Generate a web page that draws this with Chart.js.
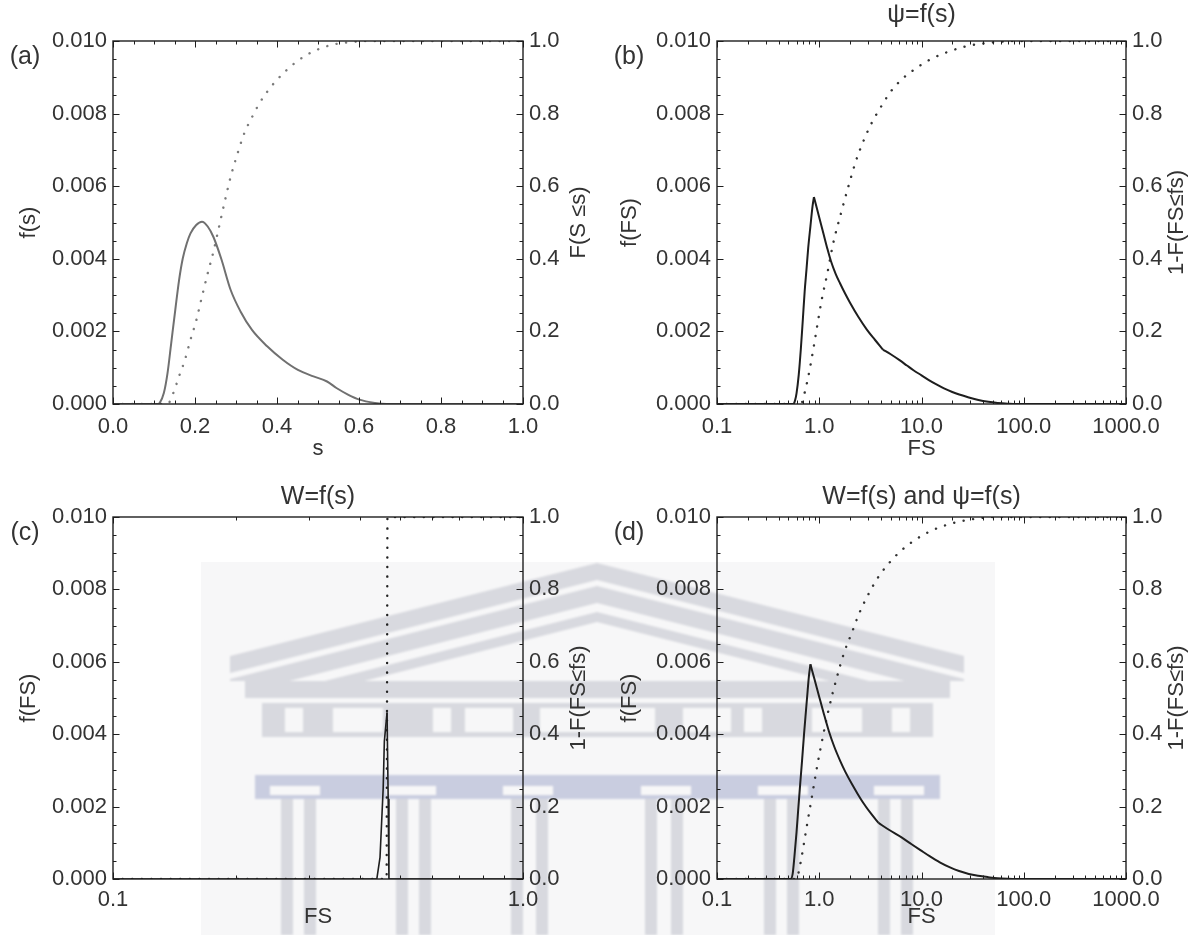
<!DOCTYPE html>
<html>
<head>
<meta charset="utf-8">
<title>Factor of safety distributions</title>
<script src="https://cdn.jsdelivr.net/npm/chart.js@4.4.1/dist/chart.umd.min.js"></script>
<style>
  html, body { margin: 0; padding: 0; background: #fff; }
  #page { position: relative; width: 1195px; height: 935px; overflow: hidden; }
  #emblem { position: absolute; left: 0; top: 0; }
  .panel { position: absolute; }
</style>
</head>
<body>
<div id="page">
  <!-- faint background emblem behind the lower panels -->
  <svg id="emblem" width="1195" height="935" viewBox="0 0 1195 935">
    <defs>
      <filter id="soft"><feGaussianBlur stdDeviation="1.1"/></filter>
      <clipPath id="gable"><rect x="0" y="0" width="1195" height="681"/></clipPath>
    </defs>
    <rect x="201" y="562" width="794" height="373" fill="#f7f7f8"/>
    <g filter="url(#soft)">
      <polygon points="230,656 597,563 964,656 964,673 597,580 230,673" fill="#d8d9df"/>
      <g clip-path="url(#gable)" fill="#d8d9df">
        <polygon points="230,679 597,586 964,679 964,696 597,603 230,696"/>
        <polygon points="230,705 597,612 964,705 964,715 597,622 230,715"/>
      </g>
      <rect x="245" y="681" width="705" height="17" fill="#d8d9df"/>
      <rect x="262" y="703" width="671" height="34" fill="#d8d9df"/>
      <g fill="#f7f7f8">
        <rect x="285" y="708" width="18" height="24"/>
        <rect x="333" y="708" width="50" height="24"/>
        <rect x="433" y="708" width="18" height="24"/>
        <rect x="465" y="708" width="48" height="24"/>
        <rect x="540" y="708" width="115" height="24"/>
        <rect x="683" y="708" width="48" height="24"/>
        <rect x="744" y="708" width="18" height="24"/>
        <rect x="812" y="708" width="50" height="24"/>
        <rect x="892" y="708" width="18" height="24"/>
      </g>
      <rect x="255" y="775" width="685" height="24" fill="#c9cde0"/>
      <g fill="#f7f7f8">
        <rect x="270" y="786" width="50" height="9"/>
        <rect x="386" y="786" width="50" height="9"/>
        <rect x="503" y="786" width="50" height="9"/>
        <rect x="641" y="786" width="50" height="9"/>
        <rect x="758" y="786" width="50" height="9"/>
        <rect x="874" y="786" width="50" height="9"/>
      </g>
      <g fill="#d8d9df">
        <rect x="281" y="799" width="12" height="136"/>
        <rect x="304" y="799" width="12" height="136"/>
        <rect x="396" y="799" width="12" height="136"/>
        <rect x="419" y="799" width="12" height="136"/>
        <rect x="511" y="799" width="12" height="136"/>
        <rect x="536" y="799" width="12" height="136"/>
        <rect x="645" y="799" width="12" height="136"/>
        <rect x="671" y="799" width="12" height="136"/>
        <rect x="764" y="799" width="12" height="136"/>
        <rect x="787" y="799" width="12" height="136"/>
        <rect x="878" y="799" width="12" height="136"/>
        <rect x="901" y="799" width="12" height="136"/>
      </g>
    </g>
  </svg>
  <div class="panel" style="left:0;top:0"><canvas id="panelA" width="597" height="467"></canvas></div>
  <div class="panel" style="left:597px;top:0"><canvas id="panelB" width="598" height="467"></canvas></div>
  <div class="panel" style="left:0;top:467px"><canvas id="panelC" width="597" height="468"></canvas></div>
  <div class="panel" style="left:597px;top:467px"><canvas id="panelD" width="598" height="468"></canvas></div>
</div>

<script>
// ---------- data ----------
// (a) strength s: density f(s) and cumulative F(S <= s)
const sPdfA = [0.0, 0.11, 0.114, 0.124, 0.133, 0.142, 0.152, 0.161, 0.17, 0.18, 0.189, 0.203, 0.217, 0.231, 0.245, 0.264, 0.287, 0.311, 0.339, 0.376, 0.414, 0.451, 0.489, 0.522, 0.545, 0.573, 0.601, 0.639, 0.667, 1.0];
const pdfA = [0, 0, 0.00003, 0.0003, 0.00085, 0.00168, 0.0026, 0.0034, 0.004, 0.00443, 0.0047, 0.00493, 0.00502, 0.00489, 0.0046, 0.004, 0.00314, 0.00255, 0.00204, 0.00159, 0.00122, 0.00094, 0.00076, 0.00062, 0.00044, 0.00026, 0.00012, 0.00003, 0, 0];
const sCdfA = [0.0, 0.133, 0.147, 0.161, 0.175, 0.189, 0.203, 0.217, 0.231, 0.245, 0.259, 0.273, 0.287, 0.301, 0.32, 0.339, 0.358, 0.376, 0.395, 0.419, 0.442, 0.47, 0.498, 0.536, 0.582, 0.62, 1.0];
const cdfA = [0, 0, 0.03, 0.076, 0.12, 0.177, 0.23, 0.296, 0.36, 0.42, 0.49, 0.56, 0.626, 0.68, 0.745, 0.79, 0.83, 0.86, 0.887, 0.915, 0.938, 0.96, 0.976, 0.99, 0.997, 1.0, 1.0];
const breaksA = [];

// (b) FS with psi = f(s); the density has a sharp peak and a kink further down
const fsPdfB = [0.1, 0.556, 0.58, 0.6, 0.63, 0.66, 0.69, 0.72, 0.75, 0.78, 0.82, 0.86, 0.887, 1.0, 1.1, 1.2, 1.3, 1.45, 1.6, 1.8, 2.0, 2.4, 2.92, 3.5, 4.2, 5.0, 6.15, 7.2, 8.35, 10, 11.8, 14, 16.6, 20, 23.4, 29, 36, 45, 55.5, 70, 85, 1000];
const pdfB = [0, 0, 0.0001, 0.0003, 0.0008, 0.0015, 0.0023, 0.0031, 0.0037, 0.0043, 0.0049, 0.00545, 0.0057, 0.00514, 0.00469, 0.00428, 0.00394, 0.00358, 0.00332, 0.00303, 0.00279, 0.00241, 0.00205, 0.00177, 0.0015, 0.00137, 0.0012, 0.00106, 0.00093, 0.00079, 0.00066, 0.00054, 0.00043, 0.00033, 0.00026, 0.00018, 0.00011, 0.00006, 0.00003, 0.00001, 0, 0];
const fsCdfB = [0.1, 0.66, 0.718, 0.817, 0.929, 1.057, 1.2, 1.37, 1.63, 1.93, 2.3, 2.73, 3.24, 4.0, 4.98, 6.45, 8.35, 11.8, 18.1, 27.9, 42.9, 85, 1000];
const cdfB = [0, 0, 0.03, 0.104, 0.195, 0.287, 0.36, 0.443, 0.525, 0.6, 0.672, 0.727, 0.773, 0.818, 0.86, 0.895, 0.92, 0.947, 0.97, 0.986, 0.994, 1.0, 1.0];
const breaksB = [0.887, 4.2];

// (c) FS with W = f(s)
const fsPdfC = [0.1, 0.44, 0.448, 0.456, 0.459, 0.466, 0.469, 0.471, 1.0];
const pdfC = [0, 0, 0.0006, 0.0025, 0.0038, 0.0046, 0.0022, 0, 0];
const fsCdfC = [0.1, 0.465, 0.467, 1.0];
const cdfC = [0, 0, 1, 1];
const breaksC = [0.44, 0.466, 0.471];

// (d) FS with W = f(s) and psi = f(s)
const fsPdfD = [0.1, 0.524, 0.55, 0.571, 0.6, 0.622, 0.65, 0.678, 0.71, 0.739, 0.77, 0.792, 0.82, 0.9, 1.0, 1.1, 1.24, 1.4, 1.61, 1.8, 2.08, 2.4, 2.7, 3.2, 3.8, 4.8, 6.38, 8, 9.84, 12, 15.1, 19, 23.3, 29, 35.8, 45, 55.2, 70, 85, 1000];
const pdfD = [0, 0, 0.00015, 0.0006, 0.0013, 0.0019, 0.0026, 0.00325, 0.004, 0.0046, 0.0052, 0.0056, 0.00593, 0.00551, 0.00503, 0.0046, 0.00409, 0.00366, 0.00325, 0.00296, 0.00263, 0.00233, 0.0021, 0.00181, 0.00155, 0.00136, 0.00115, 0.00096, 0.00079, 0.00063, 0.00046, 0.00032, 0.00022, 0.00014, 0.00009, 0.00005, 0.00002, 0.000005, 0, 0];
const fsCdfD = [0.1, 0.596, 0.65, 0.739, 0.841, 0.957, 1.09, 1.24, 1.47, 1.75, 2.08, 2.47, 3.07, 3.8, 4.93, 6.38, 9.0, 12.7, 19.6, 30.1, 55, 1000];
const cdfD = [0, 0, 0.039, 0.13, 0.222, 0.314, 0.396, 0.47, 0.552, 0.625, 0.68, 0.735, 0.79, 0.835, 0.876, 0.908, 0.94, 0.963, 0.982, 0.993, 1.0, 1.0];
const breaksD = [0.82, 3.8];

// ---------- ticks ----------
const sTicks = [0, 0.2, 0.4, 0.6, 0.8, 1.0];
const fsTicksWide = [0.1, 1, 10, 100, 1000];
const fsTicksNarrow = [0.1, 1];
const pdfTicks = [0, 0.002, 0.004, 0.006, 0.008, 0.010];
const cdfTicks = [0, 0.2, 0.4, 0.6, 0.8, 1.0];

const FONT = '"Liberation Sans", Arial, Helvetica, sans-serif';
const TEXT = '#333';

// ---------- utilities ----------
function pairs(xs, ys) {
  return xs.map((x, i) => ({ x, y: ys[i] }));
}

// cut a curve into pieces at the given x values (each cut point ends one piece and starts the next)
function splitAt(xs, ys, breaks) {
  const parts = [];
  let cur = [];
  xs.forEach((x, i) => {
    cur.push({ x, y: ys[i] });
    if (breaks.includes(x)) {
      parts.push(cur);
      cur = [{ x, y: ys[i] }];
    }
  });
  if (cur.length > 1) parts.push(cur);
  return parts;
}

function linearMinors(min, max, step) {
  const out = [];
  const n = Math.round((max - min) / step);
  for (let i = 0; i <= n; i++) out.push(min + i * step);
  return out;
}

function logMinors(min, max) {
  const out = [];
  for (let d = min; d < max * 0.999; d *= 10) {
    for (let k = 2; k <= 9; k++) out.push(d * k);
  }
  return out;
}

// frame with inward ticks on all sides, panel tag, title and right-hand axis title
const panelDecor = {
  id: 'panelDecor',
  afterDatasetsDraw(chart, args, o) {
    const { ctx, chartArea: ca, scales } = chart;
    const line = (x1, y1, x2, y2) => {
      ctx.beginPath();
      ctx.moveTo(x1, y1);
      ctx.lineTo(x2, y2);
      ctx.stroke();
    };
    ctx.save();
    ctx.strokeStyle = '#1e1e1e';
    ctx.lineWidth = 1;
    const xTick = (v, len) => {
      const p = Math.round(scales.x.getPixelForValue(v)) + 0.5;
      line(p, ca.bottom, p, ca.bottom - len);
      line(p, ca.top, p, ca.top + len);
    };
    const yTick = (scale, v, len, side) => {
      const p = Math.round(scale.getPixelForValue(v)) + 0.5;
      if (side === 'left') line(ca.left, p, ca.left + len, p);
      else line(ca.right, p, ca.right - len, p);
    };
    o.xMinor.forEach(v => xTick(v, 3.5));
    o.xMajor.forEach(v => xTick(v, 6.5));
    linearMinors(0, 0.01, 0.0005).forEach(v => yTick(scales.y, v, 3.5, 'left'));
    pdfTicks.forEach(v => yTick(scales.y, v, 6.5, 'left'));
    linearMinors(0, 1, 0.05).forEach(v => yTick(scales.y1, v, 3.5, 'right'));
    cdfTicks.forEach(v => yTick(scales.y1, v, 6.5, 'right'));

    ctx.lineWidth = 1.4;
    ctx.strokeRect(ca.left, ca.top, ca.right - ca.left, ca.bottom - ca.top);

    ctx.fillStyle = TEXT;
    ctx.textAlign = 'center';
    ctx.textBaseline = 'middle';
    ctx.font = '25px ' + FONT;
    ctx.fillText(o.tag, ca.left - 88, ca.top + 16);
    if (o.title) ctx.fillText(o.title, (ca.left + ca.right) / 2, ca.top - o.titleGap);

    // right axis title reads upward like the left one
    ctx.font = '22px ' + FONT;
    ctx.translate(scales.y1.right - 18, (ca.top + ca.bottom) / 2);
    ctx.rotate(-Math.PI / 2);
    ctx.fillText(o.rightTitle, 0, 0);
    ctx.restore();
  }
};

function makePanel(id, cfg) {
  const tickFont = { family: FONT, size: 22 };
  const smooth = cfg.smooth ? 'monotone' : 'default';
  const pdfSets = splitAt(cfg.pdfX, cfg.pdfY, cfg.breaks).map(part => ({
    data: part,
    yAxisID: 'y',
    borderColor: cfg.solidColor,
    borderWidth: cfg.solidWidth,
    borderJoinStyle: 'round',
    pointRadius: 0,
    cubicInterpolationMode: smooth
  }));
  const cdfSet = {
    data: pairs(cfg.cdfX, cfg.cdfY),
    yAxisID: 'y1',
    borderColor: cfg.dotColor,
    borderWidth: 2.4,
    borderDash: [0.1, 9.5],
    borderCapStyle: 'round',
    pointRadius: 0,
    cubicInterpolationMode: smooth
  };
  return new Chart(document.getElementById(id), {
    type: 'line',
    data: { datasets: [...pdfSets, cdfSet] },
    options: {
      responsive: false,
      animation: false,
      layout: { padding: { top: cfg.top, left: 0, right: 0, bottom: 0 } },
      plugins: {
        legend: { display: false },
        tooltip: { enabled: false },
        panelDecor: {
          tag: cfg.tag,
          title: cfg.title,
          titleGap: cfg.titleGap,
          rightTitle: cfg.rightTitle,
          xMajor: cfg.xTicks,
          xMinor: cfg.xMinor
        }
      },
      scales: {
        x: {
          type: cfg.logX ? 'logarithmic' : 'linear',
          position: 'bottom',
          min: cfg.xMin,
          max: cfg.xMax,
          grid: { display: false, drawTicks: false },
          border: { display: false },
          afterBuildTicks: s => { s.ticks = cfg.xTicks.map(v => ({ value: v })); },
          afterFit: s => { s.height = cfg.bottomH; },
          ticks: {
            autoSkip: false,
            maxRotation: 0,
            padding: cfg.xLabelPad,
            color: TEXT,
            font: tickFont,
            callback: v => Number(v).toFixed(1)
          },
          title: { display: true, text: cfg.xTitle, color: TEXT, font: tickFont, padding: { top: 0, bottom: 5 } }
        },
        y: {
          position: 'left',
          min: 0,
          max: 0.01,
          grid: { display: false, drawTicks: false },
          border: { display: false },
          afterBuildTicks: s => { s.ticks = pdfTicks.map(v => ({ value: v })); },
          afterFit: s => { s.width = cfg.leftW; },
          ticks: { padding: 6, color: TEXT, font: tickFont, callback: v => Number(v).toFixed(3) },
          title: { display: true, text: cfg.leftTitle, color: TEXT, font: tickFont, padding: { top: cfg.leftTitlePad, bottom: 0 } }
        },
        y1: {
          position: 'right',
          min: 0,
          max: 1,
          grid: { display: false, drawTicks: false },
          border: { display: false },
          afterBuildTicks: s => { s.ticks = cdfTicks.map(v => ({ value: v })); },
          afterFit: s => { s.width = cfg.rightW; },
          ticks: { padding: 6, color: TEXT, font: tickFont, callback: v => Number(v).toFixed(1) }
        }
      }
    },
    plugins: [panelDecor]
  });
}

makePanel('panelA', {
  tag: '(a)', title: '', titleGap: 0,
  pdfX: sPdfA, pdfY: pdfA, cdfX: sCdfA, cdfY: cdfA, breaks: breaksA,
  solidColor: '#707070', solidWidth: 2, dotColor: '#7a7a7a', smooth: true,
  logX: false, xMin: 0, xMax: 1, xTicks: sTicks, xMinor: linearMinors(0, 1, 0.05),
  xTitle: 's', leftTitle: 'f(s)', rightTitle: 'F(S \u2264s)',
  top: 41, bottomH: 63, leftW: 113, rightW: 74, xLabelPad: 10, leftTitlePad: 16
});

makePanel('panelB', {
  tag: '(b)', title: '\u03C8=f(s)', titleGap: 26,
  pdfX: fsPdfB, pdfY: pdfB, cdfX: fsCdfB, cdfY: cdfB, breaks: breaksB,
  solidColor: '#1e1e1e', solidWidth: 2, dotColor: '#333', smooth: true,
  logX: true, xMin: 0.1, xMax: 1000, xTicks: fsTicksWide, xMinor: logMinors(0.1, 1000),
  xTitle: 'FS', leftTitle: 'f(FS)', rightTitle: '1-F(FS\u2264fs)',
  top: 41, bottomH: 63, leftW: 120, rightW: 69, xLabelPad: 10, leftTitlePad: 20
});

makePanel('panelC', {
  tag: '(c)', title: 'W=f(s)', titleGap: 20,
  pdfX: fsPdfC, pdfY: pdfC, cdfX: fsCdfC, cdfY: cdfC, breaks: breaksC,
  solidColor: '#1e1e1e', solidWidth: 1.6, dotColor: '#222', smooth: false,
  logX: true, xMin: 0.1, xMax: 1, xTicks: fsTicksNarrow, xMinor: logMinors(0.1, 1),
  xTitle: 'FS', leftTitle: 'f(FS)', rightTitle: '1-F(FS\u2264fs)',
  top: 50, bottomH: 56, leftW: 113, rightW: 74, xLabelPad: 8, leftTitlePad: 16
});

makePanel('panelD', {
  tag: '(d)', title: 'W=f(s) and \u03C8=f(s)', titleGap: 20,
  pdfX: fsPdfD, pdfY: pdfD, cdfX: fsCdfD, cdfY: cdfD, breaks: breaksD,
  solidColor: '#1e1e1e', solidWidth: 2, dotColor: '#333', smooth: true,
  logX: true, xMin: 0.1, xMax: 1000, xTicks: fsTicksWide, xMinor: logMinors(0.1, 1000),
  xTitle: 'FS', leftTitle: 'f(FS)', rightTitle: '1-F(FS\u2264fs)',
  top: 50, bottomH: 56, leftW: 120, rightW: 69, xLabelPad: 8, leftTitlePad: 20
});
</script>
</body>
</html>
